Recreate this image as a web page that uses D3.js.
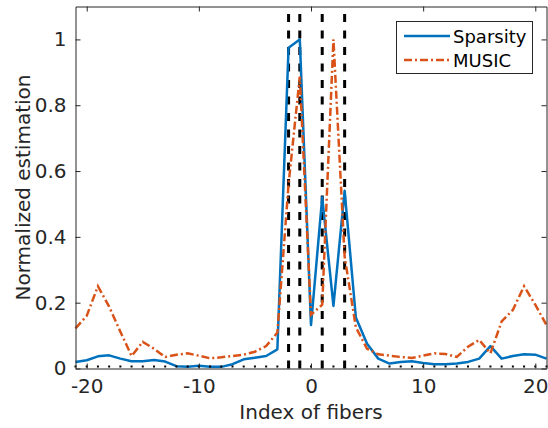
<!DOCTYPE html>
<html>
<head>
<meta charset="utf-8">
<script src="https://cdn.jsdelivr.net/npm/d3@7"></script>
<style>
  body { margin: 0; background: #fff; }
  svg { display: block; font-family: "DejaVu Sans", sans-serif; }
</style>
</head>
<body>
<svg id="chart" width="548" height="428"></svg>
<script>
// fiber index -21..21
const fiberIndex = d3.range(-21, 22);

const sparsity = [
  0.02, 0.025, 0.037, 0.04, 0.03, 0.022, 0.022, 0.026, 0.021, 0.007,
  0.005, 0.008, 0.005, 0.005, 0.013, 0.028, 0.033, 0.038, 0.058, 0.975,
  1.0, 0.132, 0.52, 0.19, 0.54, 0.155, 0.075, 0.03, 0.015, 0.02,
  0.022, 0.017, 0.013, 0.013, 0.015, 0.02, 0.03, 0.068, 0.03, 0.038,
  0.043, 0.042, 0.03
];

const music = [
  0.122, 0.16, 0.25, 0.188, 0.112, 0.038, 0.081, 0.06, 0.035, 0.042,
  0.046, 0.039, 0.031, 0.034, 0.038, 0.042, 0.051, 0.068, 0.109, 0.56,
  0.887, 0.163, 0.194, 1.0, 0.34, 0.125, 0.06, 0.043, 0.039, 0.035,
  0.032, 0.039, 0.046, 0.044, 0.035, 0.066, 0.087, 0.046, 0.143, 0.178,
  0.25, 0.194, 0.132
];

// true fiber positions (dashed markers)
const truePositions = [-2, -1, 1, 3];

const xTicks = [-20, -10, 0, 10, 20];
const yTicks = [0, 0.2, 0.4, 0.6, 0.8, 1];

const axisColor = '#262626';
const margin = { left: 75.5, right: 1.5, top: 6.5, bottom: 59.5 };
const W = 548, H = 428;

const svg = d3.select('#chart');

const x = d3.scaleLinear().domain([-21, 21]).range([margin.left, W - margin.right]);
const y = d3.scaleLinear().domain([0, 1.1]).range([H - margin.bottom, margin.top]);

const g = svg.append('g');

// true positions
g.selectAll('line.truth')
  .data(truePositions)
  .join('line')
  .attr('class', 'truth')
  .attr('x1', d => x(d)).attr('x2', d => x(d))
  .attr('y1', y(0)).attr('y2', margin.top)
  .attr('stroke', '#000')
  .attr('stroke-width', 3)
  .attr('stroke-dasharray', '8,8.5');

const line = series => d3.line()
  .x((d, i) => x(fiberIndex[i]))
  .y(d => y(d))(series);

g.append('path')
  .attr('d', line(sparsity))
  .attr('fill', 'none')
  .attr('stroke', '#0072BD')
  .attr('stroke-width', 2.5)
  .attr('stroke-linejoin', 'round');

g.append('path')
  .attr('d', line(music))
  .attr('fill', 'none')
  .attr('stroke', '#D95319')
  .attr('stroke-width', 2.5)
  .attr('stroke-dasharray', '8,3,2,3');

// fiber dots on the baseline
g.selectAll('rect.fiber')
  .data(fiberIndex)
  .join('rect')
  .attr('class', 'fiber')
  .attr('x', d => x(d) - 1)
  .attr('y', y(0) - 3)
  .attr('width', 2)
  .attr('height', 2)
  .attr('fill', '#000');

// axes (inward ticks, box); plain hyphen for negatives like MATLAB
const fmt = d => String(d);
const xAxisB = d3.axisBottom(x).tickValues(xTicks).tickSizeInner(-5).tickSizeOuter(0).tickPadding(10).tickFormat(fmt);
const xAxisT = d3.axisTop(x).tickValues(xTicks).tickSizeInner(-5).tickSizeOuter(0).tickFormat('');
const yAxisL = d3.axisLeft(y).tickValues(yTicks).tickSizeInner(-5).tickSizeOuter(0).tickPadding(9).tickFormat(fmt);
const yAxisR = d3.axisRight(y).tickValues(yTicks).tickSizeInner(-5).tickSizeOuter(0).tickFormat('');

const styleAxis = sel => {
  sel.selectAll('path').attr('stroke', axisColor);
  sel.selectAll('line').attr('stroke', axisColor);
  sel.selectAll('text').attr('fill', axisColor).attr('font-size', 20).attr('font-family', '"DejaVu Sans", sans-serif');
};

svg.append('g').attr('transform', `translate(0,${y(0)})`).call(xAxisB).call(styleAxis);
svg.append('g').attr('transform', `translate(0,${margin.top})`).call(xAxisT).call(styleAxis);
svg.append('g').attr('transform', `translate(${margin.left},0)`).call(yAxisL).call(styleAxis);
svg.append('g').attr('transform', `translate(${W - margin.right},0)`).call(yAxisR).call(styleAxis);

// axis labels
svg.append('text')
  .attr('x', (x(-21) + x(21)) / 2)
  .attr('y', 419)
  .attr('text-anchor', 'middle')
  .attr('font-size', 20)
  .attr('fill', axisColor)
  .text('Index of fibers');

svg.append('text')
  .attr('transform', `translate(30,${(y(0) + margin.top) / 2}) rotate(-90)`)
  .attr('text-anchor', 'middle')
  .attr('font-size', 20)
  .attr('fill', axisColor)
  .text('Normalized estimation');

// legend
const legend = svg.append('g');
legend.append('rect')
  .attr('x', 396.5).attr('y', 21.5)
  .attr('width', 136).attr('height', 52)
  .attr('fill', '#fff')
  .attr('stroke', axisColor);

const legendItems = [
  { name: 'Sparsity', color: '#0072BD', dash: null },
  { name: 'MUSIC', color: '#D95319', dash: '8,3,2,3' }
];

legendItems.forEach((item, i) => {
  const ly = 36 + i * 24;
  legend.append('line')
    .attr('x1', 404).attr('x2', 450)
    .attr('y1', ly).attr('y2', ly)
    .attr('stroke', item.color)
    .attr('stroke-width', 2.5)
    .attr('stroke-dasharray', item.dash);
  legend.append('text')
    .attr('x', 453).attr('y', ly + 6.5)
    .attr('font-size', 18)
    .attr('fill', '#000')
    .text(item.name);
});
</script>
</body>
</html>
